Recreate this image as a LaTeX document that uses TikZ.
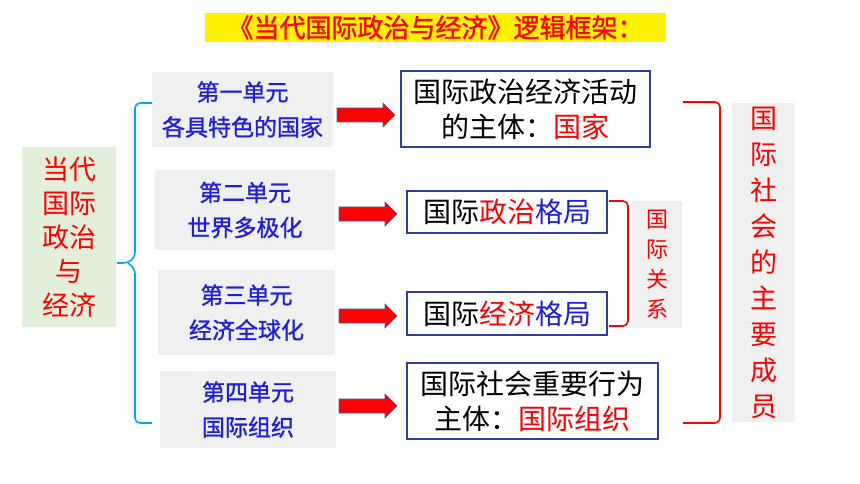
\documentclass[tikz,border=0pt]{standalone}
\usepackage{fontspec}
\setmainfont{Noto Sans CJK SC}[AutoFakeBold=1.2]
\definecolor{txtred}{RGB}{255,0,0}
\definecolor{txtblue}{RGB}{30,30,225}
\definecolor{boxblue}{RGB}{50,60,165}
\definecolor{graybg}{RGB}{240,240,240}
\definecolor{greenbg}{RGB}{226,239,218}
\definecolor{bracecyan}{RGB}{0,170,235}
\definecolor{arrowedge}{RGB}{90,90,150}
\tikzset{
  titlebox/.style={fill=yellow, text=txtred, inner sep=0, minimum width=461, minimum height=29, font=\fontsize{26}{29}\selectfont\bfseries},
  mainbox/.style={fill=greenbg, text=txtred, inner sep=0, align=center, font=\fontsize{27}{34}\selectfont},
  unitbox/.style={fill=graybg, text=txtblue, inner sep=0, align=center, font=\fontsize{23}{35}\selectfont\bfseries},
  resbox/.style={draw=boxblue, line width=1.5pt, fill=white, text=black, inner sep=0, align=center, font=\fontsize{28}{35}\selectfont},
  vertbox/.style={fill=graybg, text=txtred, inner sep=0, align=center},
  blockarrow/.style={fill=red, draw=arrowedge, line width=0.6pt, line join=miter},
  redbracket/.style={draw=txtred, line width=1.6pt, rounded corners=5},
  cyanbrace/.style={draw=bracecyan, line width=1.6pt, rounded corners=5}
}
\newcommand{\blockarr}[1]{\path[blockarrow] (#1) ++(0,-7) -- ++(46,0) -- ++(0,-5) -- ++(12,12) -- ++(-12,12) -- ++(0,-5) -- ++(-46,0) -- cycle;}
\begin{document}
\begin{tikzpicture}[x=1pt,y=-1pt]
\useasboundingbox (0,0) rectangle (860,484);
% title
\node[titlebox] (title) at (435.5,27.5) {《当代国际政治与经济》逻辑框架：};
% main box
\node[mainbox, minimum width=94, minimum height=180] (main) at (69,237) {当代\\国际\\政治\\与\\经济};
% unit boxes
\node[unitbox, minimum width=181, minimum height=75] (u1) at (242.5,109.5) {第一单元\\各具特色的国家};
\node[unitbox, minimum width=180, minimum height=80] (u2) at (245,210) {第二单元\\世界多极化};
\node[unitbox, minimum width=177, minimum height=85] (u3) at (246.5,312.5) {第三单元\\经济全球化};
\node[unitbox, minimum width=176, minimum height=77] (u4) at (248,409.5) {第四单元\\国际组织};
% result boxes
\node[resbox, minimum width=249, minimum height=76] (rA) at (525.5,109) {国际政治经济活动\\的主体：\textcolor{txtred}{国家}};
\node[resbox, minimum width=200, minimum height=42] (rB) at (507,212) {国际\textcolor{txtred}{政治}\textcolor{txtblue}{格局}};
\node[resbox, minimum width=200, minimum height=43] (rC) at (507,313.5) {国际\textcolor{txtred}{经济}\textcolor{txtblue}{格局}};
\node[resbox, minimum width=251, minimum height=76] (rD) at (532.5,401) {国际社会重要行为\\主体：\textcolor{txtred}{国际组织}};
% arrows
\coordinate (a1) at (337,115);
\coordinate (a2) at (339,214);
\coordinate (a3) at (339,316);
\coordinate (a4) at (339,406);
\blockarr{a1}
\blockarr{a2}
\blockarr{a3}
\blockarr{a4}
% vertical labels
\node[vertbox, minimum width=50, minimum height=127, font=\fontsize{22}{30}\selectfont] (rel) at (657,264.5) {国\\际\\关\\系};
\node[vertbox, minimum width=63, minimum height=319, font=\fontsize{27}{36}\selectfont] (mem) at (763.5,262.5) {国\\际\\社\\会\\的\\主\\要\\成\\员};
% cyan brace
\coordinate (bTop) at (152,103);
\coordinate (bBot) at (152,423);
\coordinate (bTip) at (117,263);
\path[cyanbrace] (bTop) -- (135,103) -- (135,257) -- (128,263) -- (bTip);
\path[cyanbrace] (bBot) -- (135,423) -- (135,269) -- (128,263);
% small red bracket
\coordinate (sTop) at (609,201);
\coordinate (sBot) at (609,326);
\path[redbracket] (sTop) -- (628,201) -- (628,326) -- (sBot);
% big red bracket
\coordinate (gTop) at (683,102);
\coordinate (gBot) at (683,423);
\path[redbracket] (gTop) -- (720,102) -- (720,423) -- (gBot);
\end{tikzpicture}
\end{document}
